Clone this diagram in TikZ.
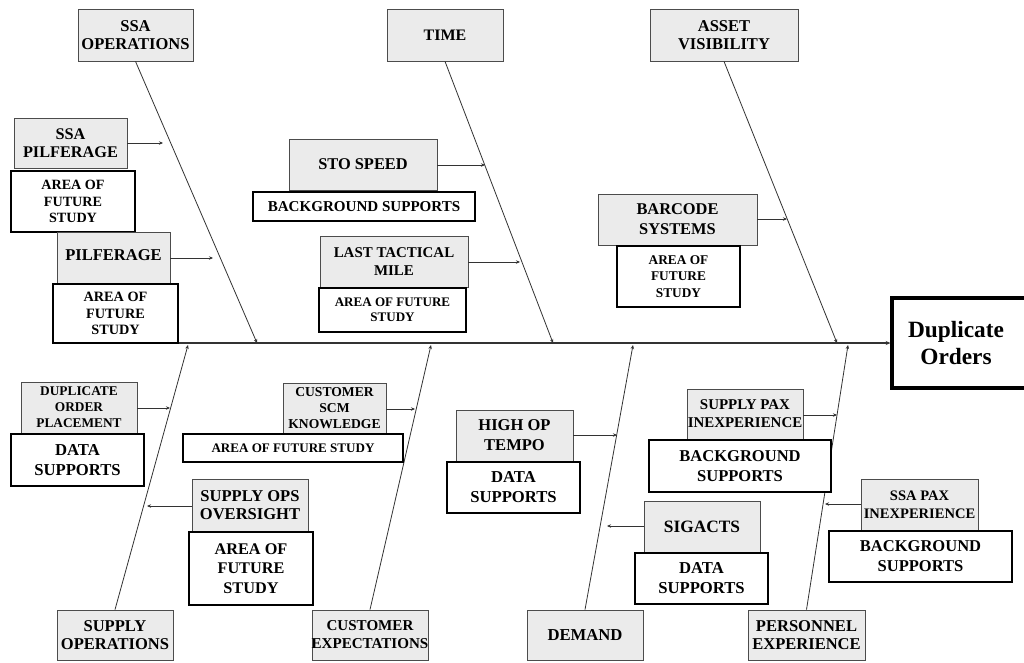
\documentclass[tikz,border=0pt]{standalone}
\usepackage{fontspec}
\setmainfont{Liberation Serif}
\usetikzlibrary{arrows.meta}

% font size / baseline skip shorthand
\newcommand\fsz[2]{\fontsize{#1}{#2}\selectfont}
% a line that may run past its box without widening it
\newcommand\ov[1]{\makebox[0pt]{#1}}
% box by corners: style, name, x1, y1, x2, y2, text
\newcommand\bx[7]{%
  \node[#1, minimum width={(#5-#3)*0.75pt}, minimum height={(#6-#4)*0.75pt}]
    (#2) at ({(#3+#5)/2},{(#4+#6)/2}) {#7};}

\tikzset{
  gbox/.style={draw=black!70, line width=0.6pt, fill=black!8, inner sep=0pt,
    align=center, font=\bfseries},
  wbox/.style={draw=black, line width=1.1pt, fill=white, inner sep=0pt,
    align=center, font=\bfseries},
  headbox/.style={draw=black, line width=2.4pt, fill=white, inner sep=0pt,
    align=center, font=\bfseries\fsz{17.5}{20}},
  spine/.style={draw=black!80, line width=1.4pt, -{Stealth[length=3.5pt,width=3pt]}},
  bone/.style={draw=black!80, line width=0.6pt, -{Stealth[length=3pt,width=2.6pt]}},
  sub/.style={draw=black!80, line width=0.6pt, -{Stealth[length=3pt,width=2.6pt]}},
}

\begin{document}
\begin{tikzpicture}[x=0.75pt, y=-0.75pt]
\useasboundingbox (0,0) rectangle (1024,662);
\clip (0,0) rectangle (1024,662);
\fill[white] (0,0) rectangle (1024,662);

% junctions of the main bones with the spine
\coordinate (j1) at (257,343);
\coordinate (j2) at (553,343);
\coordinate (j3) at (837,343);
\coordinate (j4) at (188,345);
\coordinate (j5) at (431,345);
\coordinate (j6) at (633,345);
\coordinate (j7) at (848,345);

% tips of the small cause arrows on the bones
\coordinate (t1) at (163,145);
\coordinate (t2) at (213,258);
\coordinate (t3) at (485,165);
\coordinate (t4) at (520,262);
\coordinate (t5) at (787,219);
\coordinate (t6) at (170,408);
\coordinate (t7) at (415,409);
\coordinate (t8) at (147,506);
\coordinate (t9) at (617,435);
\coordinate (t10) at (837,415);
\coordinate (t11) at (607,526);
\coordinate (t12) at (825,504);

% effect
\bx{headbox}{dup}{892}{298}{1028}{388}{\hspace*{-6pt}Duplicate\\\hspace*{-6pt}Orders}

% main categories
\bx{gbox,font=\bfseries\fsz{12.4}{13.5}}{ssaops}{78}{9}{193}{61}{SSA\\OPERATIONS}
\bx{gbox,font=\bfseries\fsz{12}{13.5}}{time}{387}{9}{503}{61}{TIME}
\bx{gbox,font=\bfseries\fsz{12.4}{14}}{asset}{650}{9}{798}{61}{ASSET\\VISIBILITY}
\bx{gbox,font=\bfseries\fsz{12.4}{13.5}}{supops}{57}{610}{173}{660}{SUPPLY\\\ov{OPERATIONS}}
\bx{gbox,font=\bfseries\fsz{11.3}{13.5}}{custexp}{312}{610}{428}{660}{CUSTOMER\\\ov{EXPECTATIONS}}
\bx{gbox,font=\bfseries\fsz{12.5}{13.5}}{demand}{527}{610}{643}{660}{DEMAND}
\bx{gbox,font=\bfseries\fsz{12.4}{13.5}}{pers}{748}{610}{865}{660}{PERSONNEL\\\ov{EXPERIENCE}}

% spine and main bones
\draw[spine] (53,343) -- (dup.west);
\draw[bone] (ssaops.south) -- (j1);
\draw[bone] (time.south) -- (j2);
\draw[bone] (asset.south) -- (j3);
\draw[bone] (supops.north) -- (j4);
\draw[bone] (custexp.north) -- (j5);
\draw[bone] (demand.north) -- (j6);
\draw[bone] (pers.north) -- (j7);

% upper causes
\bx{gbox,font=\bfseries\fsz{12.2}{13.5}}{sspil}{14}{118}{127}{168}{SSA\\PILFERAGE}
\bx{wbox,font=\bfseries\fsz{10.6}{12.2}}{afs1}{11}{171}{135}{232}{AREA OF\\FUTURE\\STUDY}
\bx{gbox,font=\bfseries\fsz{12.4}{13.5}}{pil}{57}{232}{170}{283}{\raisebox{3pt}{PILFERAGE}}
\bx{wbox,font=\bfseries\fsz{10.7}{12.4}}{afs2}{53}{284}{178}{343}{AREA OF\\FUTURE\\STUDY}
\bx{gbox,font=\bfseries\fsz{12.3}{13.5}}{sto}{289}{139}{437}{190}{STO SPEED}
\bx{wbox,font=\bfseries\fsz{11.3}{13.5}}{bg1}{253}{192}{475}{221}{BACKGROUND SUPPORTS}
\bx{gbox,font=\bfseries\fsz{11.2}{13}}{ltm}{320}{236}{468}{287}{LAST TACTICAL\\MILE}
\bx{wbox,font=\bfseries\fsz{9.8}{11.4}}{afs3}{319}{288}{466}{332}{AREA OF FUTURE\\STUDY}
\bx{gbox,font=\bfseries\fsz{12.3}{15}}{barcode}{598}{194}{757}{245}{BARCODE\\SYSTEMS}
\bx{wbox,font=\bfseries\fsz{10}{12.2}}{afs4}{617}{246}{740}{307}{AREA OF\\FUTURE\\STUDY}

% lower causes
\bx{gbox,font=\bfseries\fsz{10}{12}}{dop}{21}{382}{137}{433}{DUPLICATE\\ORDER\\PLACEMENT}
\bx{wbox,font=\bfseries\fsz{12.5}{15}}{ds1}{11}{434}{144}{486}{DATA\\SUPPORTS}
\bx{gbox,font=\bfseries\fsz{10.2}{12}}{cscm}{283}{383}{386}{434}{CUSTOMER\\SCM\\\ov{KNOWLEDGE}}
\bx{wbox,font=\bfseries\fsz{9.8}{12}}{afs5}{183}{434}{403}{462}{AREA OF FUTURE STUDY}
\bx{gbox,font=\bfseries\fsz{12.4}{14}}{soo}{192}{479}{308}{531}{SUPPLY OPS\\OVERSIGHT}
\bx{wbox,font=\bfseries\fsz{12.2}{14.5}}{afs6}{189}{532}{313}{605}{AREA OF\\FUTURE\\STUDY}
\bx{gbox,font=\bfseries\fsz{12.4}{15}}{hot}{456}{410}{573}{461}{HIGH OP\\TEMPO}
\bx{wbox,font=\bfseries\fsz{12.5}{15}}{ds2}{447}{462}{580}{513}{DATA\\SUPPORTS}
\bx{gbox,font=\bfseries\fsz{11.2}{13.5}}{spi}{687}{389}{803}{439}{SUPPLY PAX\\\ov{INEXPERIENCE}}
\bx{wbox,font=\bfseries\fsz{12.4}{15}}{bg2}{649}{440}{831}{492}{BACKGROUND\\SUPPORTS}
\bx{gbox,font=\bfseries\fsz{13}{15}}{sig}{644}{501}{760}{552}{SIGACTS}
\bx{wbox,font=\bfseries\fsz{12.5}{15}}{ds3}{635}{553}{768}{604}{DATA\\SUPPORTS}
\bx{gbox,font=\bfseries\fsz{10.9}{13.5}}{ssapax}{861}{479}{978}{530}{SSA PAX\\\ov{INEXPERIENCE}}
\bx{wbox,font=\bfseries\fsz{12.4}{15}}{bg3}{829}{531}{1012}{582}{BACKGROUND\\SUPPORTS}

% cause arrows
\draw[sub] (sspil.east) -- (sspil.east -| t1);
\draw[sub] (pil.east |- t2) -- (t2);
\draw[sub] (sto.east |- t3) -- (t3);
\draw[sub] (ltm.east |- t4) -- (t4);
\draw[sub] (barcode.east |- t5) -- (t5);
\draw[sub] (dop.east |- t6) -- (t6);
\draw[sub] (cscm.east |- t7) -- (t7);
\draw[sub] (soo.west |- t8) -- (t8);
\draw[sub] (hot.east |- t9) -- (t9);
\draw[sub] (spi.east |- t10) -- (t10);
\draw[sub] (sig.west |- t11) -- (t11);
\draw[sub] (ssapax.west |- t12) -- (t12);
\end{tikzpicture}
\end{document}
